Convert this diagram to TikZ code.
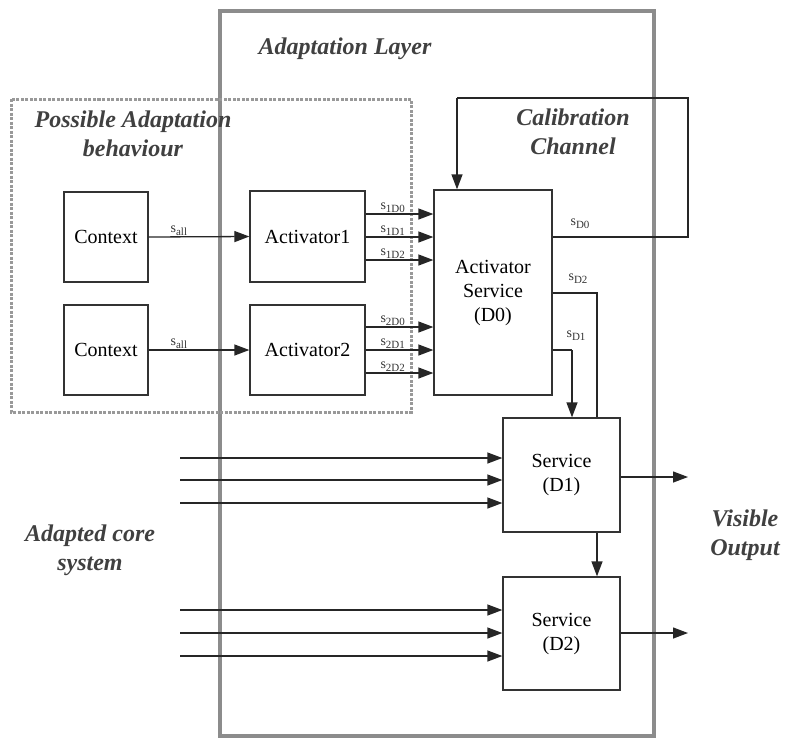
\documentclass[tikz,border=0pt]{standalone}
\usepackage{fontspec}
\setmainfont{Liberation Serif}
\usetikzlibrary{arrows.meta}
\newcommand{\sig}[1]{{\fontsize{14}{14}\selectfont s\raisebox{-3pt}{\fontsize{11}{11}\selectfont #1}}}
\begin{document}
\begin{tikzpicture}[x=1pt,y=-1pt,
  blk/.style={draw=black!80, line width=1.3pt, fill=white, inner sep=0pt, font=\fontsize{20}{24}\selectfont, align=center},
  arr/.style={line width=1.3pt, draw=black!85, -{Triangle[length=15pt,width=11pt]}},
  ln/.style={line width=1.3pt, draw=black!85},
  ttl/.style={font=\fontsize{24}{29}\selectfont\bfseries\itshape, text=black!75, align=center},
  lbl/.style={inner sep=1pt, text=black!80}]
\useasboundingbox (0,0) rectangle (787,740);
% frames
\draw[draw=black!45, line width=4.5pt] (220,11) rectangle (654,736);
\draw[draw=black!40, line width=3pt, dash pattern=on 3pt off 1.5pt] (11,99) rectangle (411,412);
% titles
\node[ttl] (tal) at (345,49) {Adaptation Layer};
\node[ttl] (tpa) at (133,134) {Possible Adaptation\\behaviour};
\node[ttl] (tcc) at (573,132) {Calibration\\Channel};
\node[ttl] (tac) at (90,550) {Adapted core\\system};
\node[ttl] (tvo) at (745,535) {Visible\\Output};
% blocks
\node[blk, minimum width=84pt, minimum height=90pt] (c1) at (106,237) {Context};
\node[blk, minimum width=84pt, minimum height=90pt] (c2) at (106,350) {Context};
\node[blk, minimum width=115pt, minimum height=91pt] (a1) at (307.5,236.5) {Activator1};
\node[blk, minimum width=115pt, minimum height=90pt] (a2) at (307.5,350) {Activator2};
\node[blk, minimum width=118pt, minimum height=205pt] (as) at (493,292.5) {Activator\\Service\\(D0)};
\node[blk, minimum width=117pt, minimum height=114pt] (d1) at (561.5,475) {Service\\(D1)};
\node[blk, minimum width=117pt, minimum height=113pt] (d2) at (561.5,633.5) {Service\\(D2)};
% context -> activator
\draw[arr] (c1.east) -- node[lbl, above, pos=0.3] {\sig{all}} (a1.west);
\draw[arr] (c2.east) -- node[lbl, above, pos=0.3] {\sig{all}} (a2.west);
% activator -> activator service
\foreach \y/\l in {214/1D0,237/1D1,260/1D2}{
  \draw[arr] (a1.east |- 0,\y) -- node[lbl, above, pos=0.4] {\sig{\l}} (as.west |- 0,\y);
}
\foreach \y/\l in {327/2D0,350/2D1,373/2D2}{
  \draw[arr] (a2.east |- 0,\y) -- node[lbl, above, pos=0.4] {\sig{\l}} (as.west |- 0,\y);
}
% calibration channel
\coordinate (cc1) at (688,237);
\coordinate (cc2) at (688,98);
\coordinate (cc3) at (457,98);
\draw[ln] (as.east |- 0,237) -- (cc1) -- (cc2) -- (cc3);
\draw[arr] (cc3) -- (as.north -| cc3);
\node[lbl] (ld0) at (580,224) {\sig{D0}};
% s_D2
\coordinate (p2) at (597,293);
\draw[ln] (as.east |- p2) -- (p2) -- (d1.north -| p2);
\node[lbl] (ld2) at (578,279) {\sig{D2}};
% s_D1
\coordinate (p1) at (572,350);
\draw[ln] (as.east |- p1) -- (p1);
\draw[arr] (p1) -- (d1.north -| p1);
\node[lbl] (ld1) at (576,336) {\sig{D1}};
% D1 -> D2
\draw[arr] (d1.south -| p2) -- (d2.north -| p2);
% core inputs
\foreach \y [count=\i] in {458,480,503}{
  \coordinate (ia\i) at (180,\y);
  \draw[arr] (ia\i) -- (d1.west |- ia\i);
}
\foreach \y [count=\i] in {610,633,656}{
  \coordinate (ib\i) at (180,\y);
  \draw[arr] (ib\i) -- (d2.west |- ib\i);
}
% outputs
\coordinate (o1) at (688,477);
\coordinate (o2) at (688,633);
\draw[arr] (d1.east |- o1) -- (o1);
\draw[arr] (d2.east |- o2) -- (o2);
\end{tikzpicture}
\end{document}
